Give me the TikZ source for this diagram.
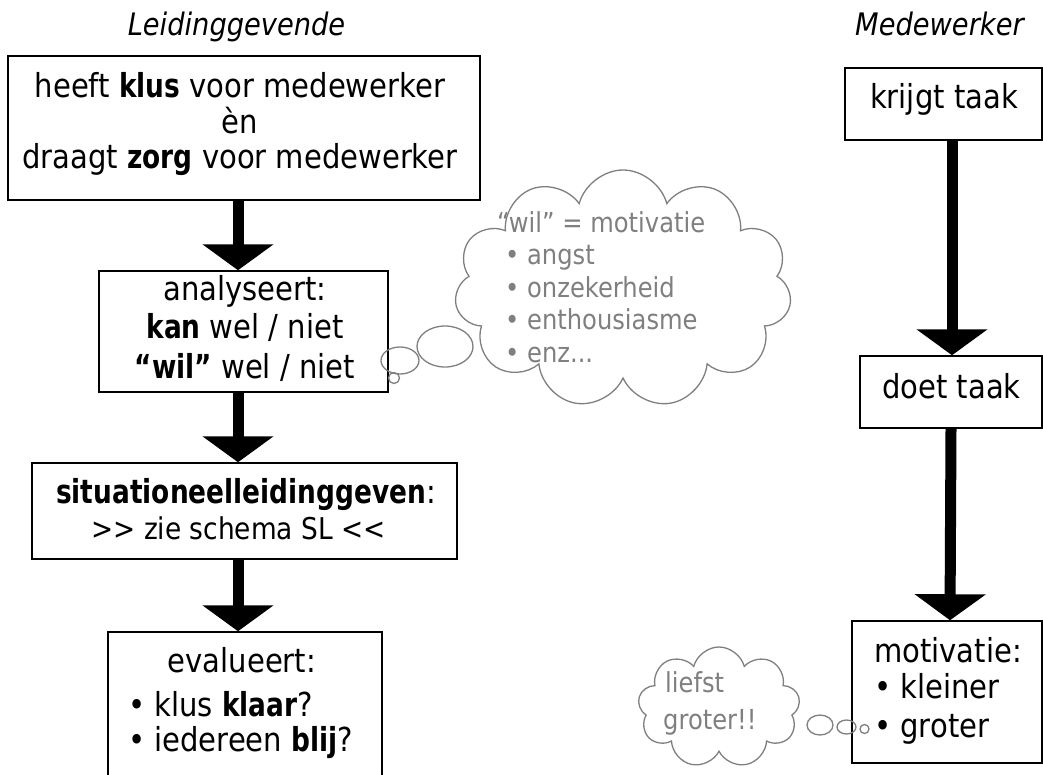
\documentclass[tikz,border=0pt]{standalone}
\usepackage{fontspec}
\setmainfont{DejaVu Sans}[FakeStretch=0.88, BoldFeatures={FakeStretch=0.80}]
\usetikzlibrary{arrows.meta,shapes.symbols,shapes.geometric}
\definecolor{cgray}{HTML}{7F7F7F}
\newcommand{\fsz}[1]{\fontsize{#1}{#1}\selectfont}
\begin{document}
\begin{tikzpicture}[x=1pt,y=-1pt,
  box/.style={draw=black, line width=1.5pt, rectangle, inner sep=0pt},
  txt/.style={inner sep=0pt, anchor=base, font=\fsz{33}},
  ltxt/.style={inner sep=0pt, anchor=base west, font=\fsz{33}},
  gtxt/.style={inner sep=0pt, anchor=base west, text=cgray, font=\fsz{27.5}},
  ttl/.style={inner sep=0pt, anchor=base, font=\fsz{31}\itshape},
  bigarrow/.style={line width=11pt, -{Triangle[width=70pt,length=26pt]}},
  thought/.style={draw=cgray, line width=1.3pt, cloud, cloud ignores aspect, inner sep=0pt},
  bubble/.style={draw=cgray, line width=1.3pt, ellipse, inner sep=0pt}
]
\useasboundingbox (0,0) rectangle (1043,774);

% titles
\node[ttl] (tL) at (236.5,35) {Leidinggevende};
\node[ttl] (tM) at (939.5,35) {Medewerker};

% left column boxes
\node[box, minimum width=472pt, minimum height=144pt] (b1) at (244,128) {};
\node[box, minimum width=289pt, minimum height=121pt] (b2) at (243.5,331.5) {};
\node[box, minimum width=425pt, minimum height=96pt] (b3) at (244.5,511) {};
\node[box, minimum width=274pt, minimum height=168pt] (b4) at (245,716) {};

\node[txt] (t1a) at (240,97) {heeft \textbf{klus} voor medewerker};
\node[txt] (t1b) at (240,133) {èn};
\node[txt] (t1c) at (240,168) {draagt \textbf{zorg} voor medewerker};

\node[txt] (t2a) at (245,300) {analyseert:};
\node[txt] (t2b) at (245,338) {\textbf{kan} wel / niet};
\node[txt] (t2c) at (245,378) {\textbf{“wil”} wel / niet};

\node[txt] (t3a) at (246,503) {\textbf{situationeelleidinggeven}:};
\node[txt, font=\fsz{30}] (t3b) at (238.5,539) {>\kern0pt> zie schema SL <\kern0pt<};

\node[txt] (t4a) at (242,672) {evalueert:};
\node[ltxt] (t4b) at (128,716) {• klus \textbf{klaar}?};
\node[ltxt] (t4c) at (128,751) {• iedereen \textbf{blij}?};

% right column boxes
\node[box, minimum width=197pt, minimum height=72pt] (b5) at (943.5,104) {};
\node[box, minimum width=182pt, minimum height=72pt] (b6) at (951,392) {};
\node[box, minimum width=190pt, minimum height=142pt] (b7) at (947,692) {};

\node[txt] (t5) at (944,108) {krijgt taak};
\node[txt] (t6) at (951.5,398) {doet taak};
\node[ltxt] (t7a) at (874,662) {motivatie:};
\node[ltxt] (t7b) at (874,698) {• kleiner};
\node[ltxt] (t7c) at (874,737) {• groter};

% arrows
\draw[bigarrow] ([xshift=-6pt]b1.south) -- ([xshift=-5.5pt]b2.north);
\draw[bigarrow] ([xshift=-5.5pt]b2.south) -- ([xshift=-6.5pt]b3.north);
\draw[bigarrow] ([xshift=-6.5pt]b3.south) -- ([xshift=-7pt]b4.north);
\draw[bigarrow] ([xshift=8.5pt]b5.south) -- ([xshift=1pt]b6.north);
\draw[bigarrow] ([xshift=0pt]b6.south) -- ([xshift=3pt]b7.north);

% big thought cloud
\node[thought, cloud puffs=11, minimum width=337pt, minimum height=238pt] (c1) at (623,289) {};
\node[bubble, minimum width=56pt, minimum height=41pt] (c1a) at (445,346.5) {};
\node[bubble, minimum width=38pt, minimum height=27pt] (c1b) at (400,360.5) {};
\node[bubble, minimum width=11pt, minimum height=11pt] (c1c) at (394,378) {};
\node[gtxt] (g1) at (497,232) {“wil” = motivatie};
\node[gtxt] (g2) at (505,264.5) {• angst};
\node[gtxt] (g3) at (505,297) {• onzekerheid};
\node[gtxt] (g4) at (505,329.5) {• enthousiasme};
\node[gtxt] (g5) at (505,362) {• enz...};

% small thought cloud
\node[thought, cloud puffs=9, minimum width=162pt, minimum height=121pt] (c2) at (719,707.5) {};
\node[bubble, minimum width=26pt, minimum height=20pt] (c2a) at (820,725) {};
\node[bubble, minimum width=19pt, minimum height=14pt] (c2b) at (846.5,727) {};
\node[bubble, minimum width=9pt, minimum height=9pt] (c2c) at (864.5,729) {};
\node[gtxt] (s1) at (665,692) {liefst};
\node[gtxt] (s2) at (663,729) {groter!!};
\end{tikzpicture}
\end{document}
